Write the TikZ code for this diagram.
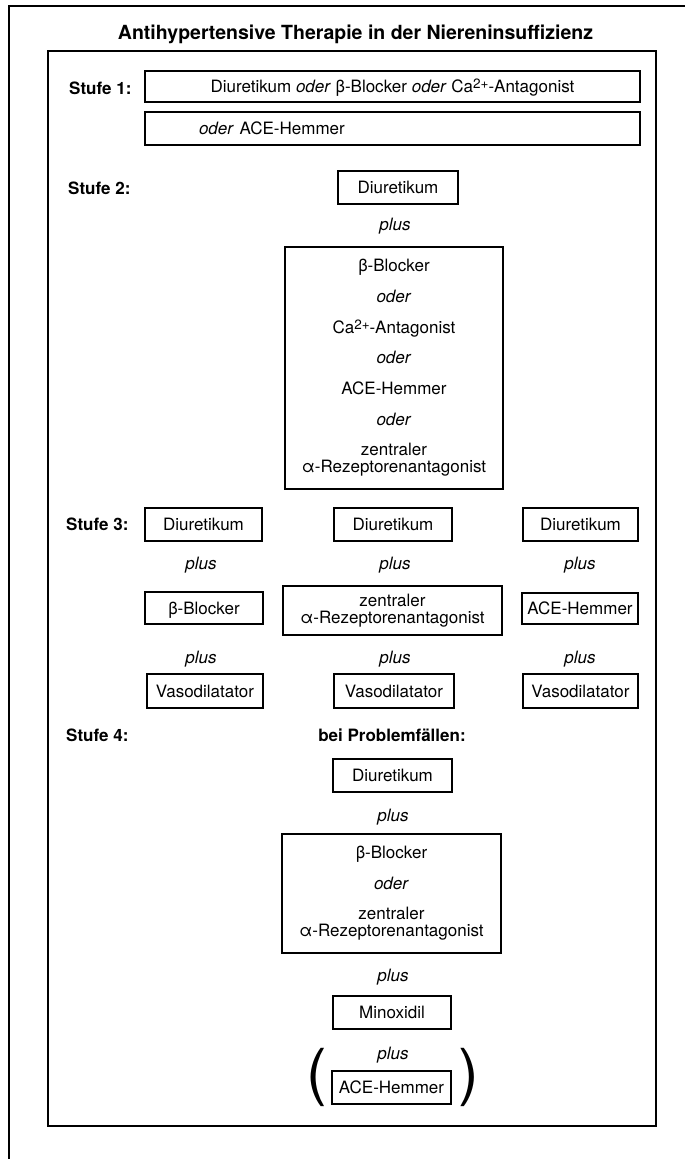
\documentclass[tikz,border=0pt]{standalone}
\usepackage{fontspec}
\setmainfont{TeX Gyre Heros}
\newcommand{\supcharge}{\raisebox{0.45ex}{\fontsize{13.5}{13.5}\selectfont 2+}}
\begin{document}
\begin{tikzpicture}[x=1pt,y=-1pt,
  frame/.style={draw, line width=1.3pt},
  box/.style={draw, line width=1.1pt, inner sep=0pt, align=center, font=\fontsize{17}{17}\selectfont},
  one/.style={text height=12pt, text depth=0pt},
  lbl/.style={inner sep=0pt, font=\fontsize{17}{17}\selectfont\bfseries, text height=12pt, text depth=0pt},
  conj/.style={inner sep=0pt, font=\fontsize{17}{17}\selectfont\itshape, text height=12pt, text depth=0pt},
  title/.style={inner sep=0pt, font=\fontsize{19.5}{19.5}\selectfont\bfseries, text height=14pt, text depth=0pt},
  paren/.style={inner sep=0pt, font=\fontsize{62}{62}\selectfont}]
\useasboundingbox (0,0) rectangle (685,1159);

% outer frame (cut at right and bottom)
\draw[frame] (9,1159) -- (9,6) -- (685,6);
% inner frame
\draw[frame] (48,51) rectangle (656,1126);

\node[title] (t) at (355.5,32) {Antihypertensive Therapie in der Niereninsuffizienz};

% Stufe 1
\node[lbl, anchor=west] (l1) at (69,88) {Stufe 1:};
\node[box, one, minimum width=495pt, minimum height=31pt] (s1a) at (392.5,86.5)
  {Diuretikum \textit{oder} β-Blocker \textit{oder} Ca\supcharge-Antagonist};
\node[box, one, minimum height=33pt, inner xsep=54pt, text width=387pt, align=left] (s1b) at (392.5,128.5)
  {\textit{oder} ACE-Hemmer};

% Stufe 2
\node[lbl, anchor=west] (l2) at (68,188) {Stufe 2:};
\node[box, one, minimum width=120pt, minimum height=33pt] (s2a) at (398,187.5) {Diuretikum};
\node[conj] (p2) at (395,224) {plus};
\node[box, minimum width=218pt, minimum height=242pt] (s2b) at (394,368)
  {β-Blocker\\[13.7pt]\textit{oder}\\[13.7pt]Ca\supcharge-Antagonist\\[13.7pt]\textit{oder}\\[13.7pt]ACE-Hemmer\\[13.7pt]\textit{oder}\\[13.7pt]zentraler\\α-Rezeptorenantagonist};

% Stufe 3
\node[lbl, anchor=west] (l3) at (66,524) {Stufe 3:};
\node[box, one, minimum width=117pt, minimum height=33pt] (d1) at (203.5,524.5) {Diuretikum};
\node[box, one, minimum width=118pt, minimum height=33pt] (d2) at (393,524.5) {Diuretikum};
\node[box, one, minimum width=115pt, minimum height=33pt] (d3) at (580.5,524.5) {Diuretikum};
\node[conj] (pa1) at (201,563) {plus};
\node[conj] (pa2) at (395,563) {plus};
\node[conj] (pa3) at (580,563) {plus};
\node[box, one, minimum width=118pt, minimum height=32pt] (m1) at (204,608) {β-Blocker};
\node[box, minimum width=219pt, minimum height=49pt] (m2) at (392.5,610.5) {zentraler\\α-Rezeptorenantagonist};
\node[box, one, minimum width=116pt, minimum height=31pt] (m3) at (580,608.5) {ACE-Hemmer};
\node[conj] (pb1) at (201,657) {plus};
\node[conj] (pb2) at (395,657) {plus};
\node[conj] (pb3) at (580,657) {plus};
\node[box, one, minimum width=116pt, minimum height=34pt] (v1) at (205,691) {Vasodilatator};
\node[box, one, minimum width=120pt, minimum height=34pt] (v2) at (394,691) {Vasodilatator};
\node[box, one, minimum width=115pt, minimum height=34pt] (v3) at (580.5,691) {Vasodilatator};

% Stufe 4
\node[lbl, anchor=west] (l4) at (66,735) {Stufe 4:};
\node[lbl] (bp) at (392,735) {bei Problemfällen:};
\node[box, one, minimum width=119pt, minimum height=33pt] (s4a) at (392.5,775.5) {Diuretikum};
\node[conj] (p4a) at (393,815) {plus};
\node[box, minimum width=219pt, minimum height=119pt] (s4b) at (391.5,893.5)
  {β-Blocker\\[13.5pt]\textit{oder}\\[13.5pt]zentraler\\α-Rezeptorenantagonist};
\node[conj] (p4b) at (393,975) {plus};
\node[box, one, minimum width=118pt, minimum height=33pt] (mx) at (392,1012.5) {Minoxidil};
\node[conj] (p4c) at (393,1053) {plus};
\node[box, one, minimum width=119pt, minimum height=33pt] (ace) at (391.5,1087.5) {ACE-Hemmer};
\node[paren] (lp) at (317,1077) {(};
\node[paren] (rp) at (469,1077) {)};
\end{tikzpicture}
\end{document}
